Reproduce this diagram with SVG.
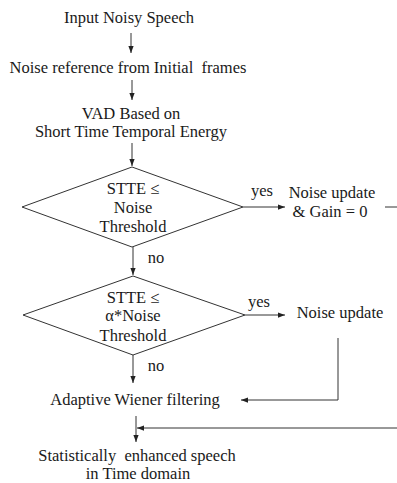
<svg xmlns="http://www.w3.org/2000/svg" width="397" height="483" viewBox="0 0 397 483">
<defs>
<marker id="ah" viewBox="0 0 8 8" refX="8" refY="4" markerWidth="7" markerHeight="7" markerUnits="userSpaceOnUse" orient="auto">
<path d="M0,1 L8,4 L0,7 Z" fill="#222"/>
</marker>
</defs>
<style>
text{font-family:"Liberation Serif","Times New Roman",serif;font-size:16.5px;fill:#1a1a1a;text-anchor:middle;white-space:pre}
.l{stroke:#333;stroke-width:1;fill:none}
.d{stroke:#333;stroke-width:1;fill:#fff}
</style>
<rect width="397" height="483" fill="#fff"/>
<g id="connectors">
<line class="l" x1="131" y1="33" x2="131" y2="53" marker-end="url(#ah)"/>
<line class="l" x1="132" y1="80" x2="132" y2="100" marker-end="url(#ah)"/>
<line class="l" x1="132" y1="143" x2="132" y2="166" marker-end="url(#ah)"/>
<line class="l" x1="243" y1="207" x2="285" y2="207" marker-end="url(#ah)"/>
<line class="l" x1="385" y1="207" x2="397" y2="207"/>
<line class="l" x1="133" y1="247" x2="133" y2="275" marker-end="url(#ah)"/>
<line class="l" x1="245" y1="315" x2="285" y2="315" marker-end="url(#ah)"/>
<polyline class="l" points="338,338 338,400 241,400" marker-end="url(#ah)"/>
<line class="l" x1="133" y1="355" x2="133" y2="383" marker-end="url(#ah)"/>
<line class="l" x1="136" y1="416" x2="136" y2="442" marker-end="url(#ah)"/>
<line class="l" x1="397" y1="428" x2="137" y2="428" marker-end="url(#ah)"/>
<text x="262" y="196">yes</text>
<text x="156" y="263">no</text>
<text x="259" y="307">yes</text>
<text x="156" y="371">no</text>
</g>
<g id="input"><text x="129" y="23">Input Noisy Speech</text></g>
<g id="noise-ref"><text x="128" y="73" xml:space="preserve">Noise reference from Initial  frames</text></g>
<g id="vad"><text x="131" y="119">VAD Based on</text><text x="131" y="137">Short Time Temporal Energy</text></g>
<g id="decision1">
<polygon class="d" points="132,167 243,207 132,247 22,207"/>
<text x="133" y="194">STTE ≤</text><text x="133" y="213">Noise</text><text x="133" y="232">Threshold</text>
</g>
<g id="update-gain"><text x="332" y="198">Noise update</text><text x="330" y="217">&amp; Gain = 0</text></g>
<g id="decision2">
<polygon class="d" points="133,276 245,315 133,355 23,315"/>
<text x="133" y="303">STTE ≤</text><text x="133" y="321">α*Noise</text><text x="133" y="341">Threshold</text>
</g>
<g id="update"><text x="340" y="318">Noise update</text></g>
<g id="wiener"><text x="135" y="405">Adaptive Wiener filtering</text></g>
<g id="output"><text x="137" y="461" xml:space="preserve">Statistically  enhanced speech</text><text x="138" y="479">in Time domain</text></g>
</svg>
